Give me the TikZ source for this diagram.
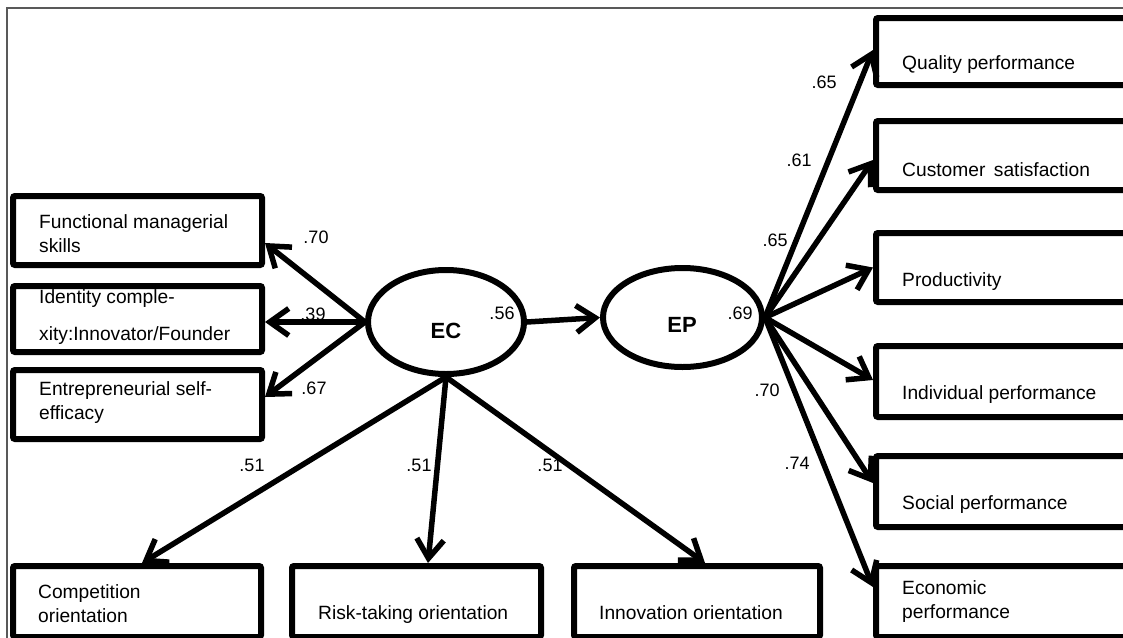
\documentclass[tikz,border=0pt]{standalone}
\usepackage{fontspec}
\setmainfont{Liberation Sans}
\usetikzlibrary{arrows.meta,shapes.geometric}

\tikzset{
	box/.style={draw, line width=6pt, rounded corners=2pt, inner sep=0pt},
	latent/.style={draw, ellipse, line width=6pt, inner sep=0pt},
	load/.style={line width=5.5pt, -{Straight Barb[length=19pt,width=27pt]}},
	item/.style={font=\fontsize{19.2}{24}\selectfont, inner sep=0pt, align=left, anchor=west},
	coef/.style={font=\fontsize{18}{21}\selectfont, inner sep=0pt},
	lname/.style={font=\fontsize{22}{26}\selectfont\bfseries, inner sep=0pt},
	frame/.style={draw=black!65, line width=1.5pt}
}

\begin{document}
\begin{tikzpicture}[x=1pt, y=-1pt]
	\useasboundingbox (0,0) rectangle (1123,637);
	\draw[frame] (7,645) -- (7,8) -- (1135,8);

	% latent variables
	\node[latent, minimum width=156pt, minimum height=104pt] (EC) at (446,322) {};
	\node[latent, minimum width=159pt, minimum height=99pt] (EP) at (682.5,317.5) {};
	\node[lname] (ECt) at (446,331) {EC};
	\node[lname] (EPt) at (682,325) {EP};

	% indicators of EC
	\node[box, minimum width=249pt, minimum height=69pt] (fms) at (137.5,230.5) {};
	\node[box, minimum width=249pt, minimum height=66pt] (icx) at (137.5,319) {};
	\node[box, minimum width=249pt, minimum height=69pt] (ese) at (137.5,404.5) {};
	\node[box, minimum width=248pt, minimum height=71pt] (cor) at (137,601.5) {};
	\node[box, minimum width=249pt, minimum height=71pt] (rto) at (416.5,601.5) {};
	\node[box, minimum width=246pt, minimum height=71pt] (ior) at (697,601.5) {};

	\node[item] (fmst) at (39,234) {Functional managerial\\skills};
	\node[item] (icxt) at (39,317) {Identity comple-\\[13pt]xity:Innovator/Founder};
	\node[item] (eset) at (39,403) {Entrepreneurial self-\\efficacy};
	\node[item] (cort) at (38,604) {Competition\\orientation};
	\node[item] (rtot) at (318,615) {Risk-taking orientation};
	\node[item] (iort) at (599,613) {Innovation orientation};

	% indicators of EP
	\node[box, minimum width=269pt, minimum height=67pt] (qpf) at (1010.5,51.5) {};
	\node[box, minimum width=269pt, minimum height=69pt] (cst) at (1010.5,155.5) {};
	\node[box, minimum width=269pt, minimum height=69pt] (prd) at (1010.5,267.5) {};
	\node[box, minimum width=269pt, minimum height=71pt] (ipf) at (1010.5,381.5) {};
	\node[box, minimum width=269pt, minimum height=71pt] (spf) at (1010.5,491.5) {};
	\node[box, minimum width=269pt, minimum height=71pt] (epf) at (1010.5,601.5) {};

	\node[item] (qpft) at (902,65) {Quality performance};
	\node[item] (cstt) at (902,170) {Customer\, satisfaction};
	\node[item] (prdt) at (902,282) {Productivity};
	\node[item] (ipft) at (902,395) {Individual performance};
	\node[item] (spft) at (902,505) {Social performance};
	\node[item] (epft) at (902,602) {Economic\\performance};

	% paths
	\draw[load] (EC.west) -- ([yshift=-12.5pt]fms.east);
	\draw[load] (EC.west) -- ([yshift=-3pt]icx.east);
	\draw[load] (EC.west) -- ([yshift=7.5pt]ese.east);
	\draw[load] (EC.south) -- ([xshift=5pt]cor.north);
	\draw[load] (EC.south) -- ([xshift=11.5pt]rto.north);
	\draw[load] (EC.south) -- ([xshift=8pt]ior.north);
	\draw[load] (EC.east) -- (EP.west);
	\draw[load] (EP.east) -- ([yshift=1.5pt]qpf.west);
	\draw[load] (EP.east) -- ([yshift=-4.5pt]cst.west);
	\draw[load] (EP.east) -- (prd.west);
	\draw[load] (EP.east) -- ([yshift=1.5pt]ipf.west);
	\draw[load] (EP.east) -- ([yshift=8.5pt]spf.west);
	\draw[load] (EP.east) -- ([yshift=14.5pt]epf.west);

	% loadings
	\node[coef] (l1) at (316,237) {.70};
	\node[coef] (l2) at (313,314) {.39};
	\node[coef] (l3) at (314,388) {.67};
	\node[coef] (l4) at (252,465) {.51};
	\node[coef] (l5) at (419,465) {.51};
	\node[coef] (l6) at (550,465) {.51};
	\node[coef] (r1) at (502,313) {.56};
	\node[coef] (r2) at (740,313) {.69};
	\node[coef] (l7) at (824,82) {.65};
	\node[coef] (l8) at (799,160) {.61};
	\node[coef] (l9) at (775,240) {.65};
	\node[coef] (l10) at (767,390) {.70};
	\node[coef] (l11) at (797,463) {.74};
\end{tikzpicture}
\end{document}
